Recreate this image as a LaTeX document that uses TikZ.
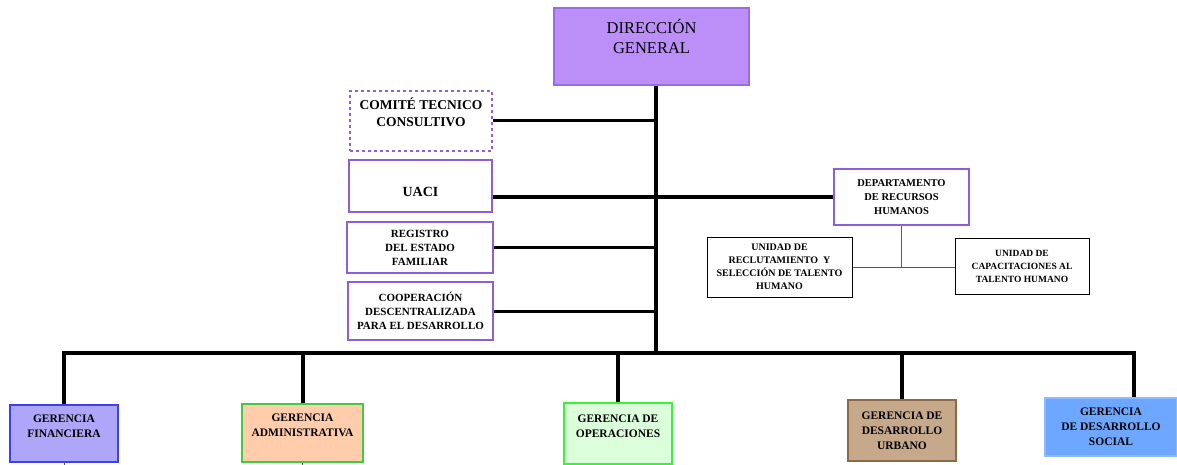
\documentclass[tikz,border=0pt]{standalone}
\usepackage{fontspec}
\setmainfont{Liberation Serif}

\definecolor{dirfill}{HTML}{BB8FF7}
\definecolor{dirline}{HTML}{9A6BE8}
\definecolor{unitline}{HTML}{8E5FD9}
\definecolor{finfill}{HTML}{AEA6F8}
\definecolor{finline}{HTML}{3F3FF0}
\definecolor{admfill}{HTML}{FFCDAB}
\definecolor{admline}{HTML}{3FCC3F}
\definecolor{opefill}{HTML}{DBFEDB}
\definecolor{opeline}{HTML}{3AF23A}
\definecolor{urbfill}{HTML}{C6A88B}
\definecolor{urbline}{HTML}{8C6A48}
\definecolor{socfill}{HTML}{6EA7FF}
\definecolor{socline}{HTML}{8CBBFF}

\begin{document}
\begin{tikzpicture}[x=1pt, y=-1pt,
    unit/.style={draw=unitline, line width=1.2pt, align=center, inner sep=2pt,
        font=\bfseries\fontsize{11}{14}\selectfont},
    subunit/.style={draw=black, line width=1pt, align=center, inner sep=2pt,
        font=\bfseries\fontsize{10}{13}\selectfont},
    gerencia/.style={line width=1.2pt, align=center, inner sep=2pt,
        font=\bfseries\fontsize{11.5}{15}\selectfont},
    trunk/.style={line width=4pt},
    branch/.style={line width=3pt},
    thinline/.style={draw=black!65, line width=1pt}]
    \useasboundingbox (0,0) rectangle (1177,465);

    % top of the chart
    \node[draw=dirline, fill=dirfill, line width=1.2pt, align=center,
        font=\fontsize{16.5}{20}\selectfont, minimum width=195pt, minimum height=77pt]
        (dir) at (651.5,46.5) {DIRECCIÓN\\GENERAL\\ \mbox{}};
    \coordinate (axis) at (656,353);

    % staff units on the left
    \node[unit, dashed, font=\bfseries\fontsize{13.5}{17}\selectfont,
        minimum width=142pt, minimum height=60pt]
        (com) at (421,121) {COMITÉ TECNICO\\CONSULTIVO\\ \mbox{}};
    \node[unit, font=\bfseries\fontsize{14}{17}\selectfont,
        minimum width=143pt, minimum height=52pt]
        (uaci) at (420.5,186) {\mbox{}\\[4pt]UACI};
    \node[unit, minimum width=146pt, minimum height=51pt]
        (reg) at (420,247.5) {REGISTRO\\DEL ESTADO\\FAMILIAR};
    \node[unit, minimum width=145pt, minimum height=58pt]
        (coop) at (420.5,311) {COOPERACIÓN\\DESCENTRALIZADA\\PARA EL DESARROLLO};

    % human resources
    \node[unit, font=\bfseries\fontsize{10.5}{14}\selectfont,
        minimum width=135pt, minimum height=56pt]
        (drh) at (901.5,197) {DEPARTAMENTO\\DE RECURSOS\\HUMANOS};
    \node[subunit, minimum width=145pt, minimum height=60pt]
        (rec) at (779.5,267) {UNIDAD DE\\RECLUTAMIENTO~ Y\\SELECCIÓN DE TALENTO\\HUMANO};
    \node[subunit, font=\bfseries\fontsize{9.5}{13}\selectfont,
        minimum width=134pt, minimum height=56pt]
        (cap) at (1022,266) {UNIDAD DE\\CAPACITACIONES AL\\TALENTO HUMANO};

    % gerencias
    \node[gerencia, draw=finline, fill=finfill, minimum width=108pt, minimum height=57pt]
        (fin) at (64,433.5) {GERENCIA\\FINANCIERA\\ \mbox{}};
    \node[gerencia, draw=admline, fill=admfill, minimum width=121pt, minimum height=58pt]
        (adm) at (302.5,433) {GERENCIA\\ADMINISTRATIVA\\ \mbox{}};
    \node[gerencia, draw=opeline, fill=opefill, minimum width=108pt, minimum height=61pt]
        (ope) at (618,433.5) {GERENCIA DE\\OPERACIONES\\ \mbox{}};
    \node[gerencia, draw=urbline, fill=urbfill, minimum width=108pt, minimum height=61pt]
        (urb) at (902,430.5) {GERENCIA DE\\DESARROLLO\\URBANO};
    \node[gerencia, draw=socline, fill=socfill, minimum width=132pt, minimum height=58pt]
        (soc) at (1111,427) {GERENCIA\\DE DESARROLLO\\SOCIAL};

    % lines
    \draw[trunk] (axis |- dir.south) -- (axis);
    \coordinate (busR) at (1134,353);
    \draw[trunk, line join=miter] (fin.north) |- (busR) -- (busR |- soc.north);
    \draw[trunk] (adm.north) -- (adm.north |- axis);
    \draw[trunk] (ope.north) -- (ope.north |- axis);
    \draw[trunk] (urb.north) -- (urb.north |- axis);

    \draw[branch] (com.east) -- (com.east -| axis);
    \draw[branch] (drh.west) -- (drh.west -| uaci.east);
    \draw[branch] (reg.east) -- (reg.east -| axis);
    \draw[branch] (coop.east) -- (coop.east -| axis);

    \draw[thinline] (drh.south) -- (drh.south |- rec.east);
    \draw[thinline] (rec.east) -- (rec.east -| cap.west);

    \coordinate (foot) at (0,465);
    \draw[thinline] (fin.south) -- (fin.south |- foot);
    \draw[thinline] (adm.south) -- (adm.south |- foot);
\end{tikzpicture}
\end{document}
